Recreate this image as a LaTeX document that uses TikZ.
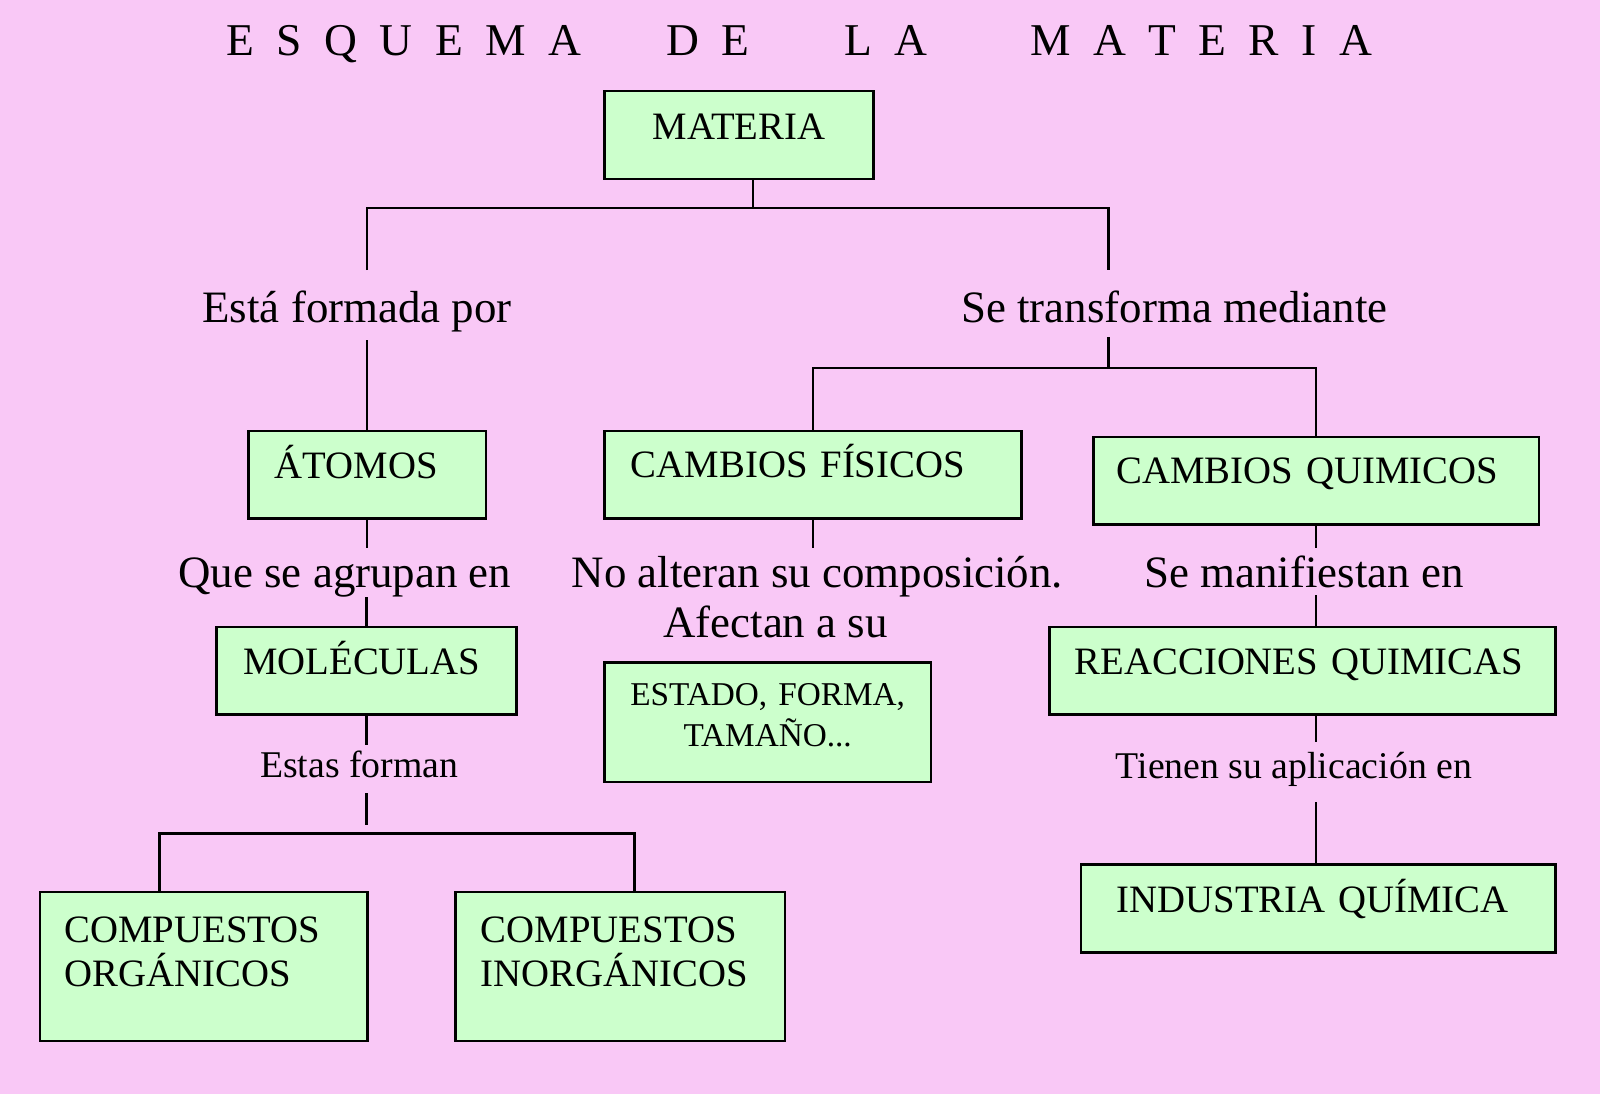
\documentclass[tikz,border=0pt]{standalone}
\usepackage{fontspec}
\setmainfont{Liberation Serif}
\definecolor{bgpink}{RGB}{249,200,246}
\definecolor{boxgreen}{RGB}{204,255,204}
\newcommand\tlsp{\hspace{11pt}}
\begin{document}
\begin{tikzpicture}[x=0.5pt,y=-0.5pt,
  box/.style={draw=black, fill=boxgreen, line width=1.3pt, inner ysep=0pt,
              anchor=north west, font=\fontsize{19}{21.5}\selectfont},
  lab/.style={inner sep=0pt, anchor=base, font=\fontsize{22}{26}\selectfont},
  slab/.style={inner sep=0pt, anchor=base, font=\fontsize{18.5}{22}\selectfont},
  conn/.style={line width=1.3pt}]
\fill[bgpink] (0,0) rectangle (1568,1072);
\useasboundingbox (0,0) rectangle (1568,1072);

% title
\node[anchor=base, inner sep=0pt, font=\fontsize{22.3}{26}\selectfont] (title) at (783.5,54)
  {E\tlsp S\tlsp Q\tlsp U\tlsp E\tlsp M\tlsp A\hspace{41.5pt}D\tlsp E\hspace{46.5pt}L\tlsp A\hspace{50.5pt}M\tlsp A\tlsp T\tlsp E\tlsp R\tlsp I\tlsp A};

% boxes
\node[box, text width=132pt, text height=23.75pt, text depth=19.25pt, inner xsep=0pt, align=center] (materia) at (591,88) {\mbox{MATERIA}};
\node[box, text width=90.5pt, text height=23.5pt, text depth=19.5pt, inner xsep=13pt, align=left] (atomos) at (242,421) {\mbox{ÁTOMOS}};
\node[box, text width=178.5pt, text height=23pt, text depth=20pt, inner xsep=13pt, align=left] (fis) at (591,421) {\mbox{CAMBIOS FÍSICOS}};
\node[box, text width=195.5pt, text height=22.75pt, text depth=20.25pt, inner xsep=11.5pt, align=left] (quim) at (1070,427) {\mbox{CAMBIOS QUIMICOS}};
\node[box, text width=121pt, text height=23.35pt, text depth=19.65pt, inner xsep=13pt, align=left] (molec) at (211,613) {\mbox{MOLÉCULAS}};
\node[box, text width=160pt, text height=21pt, text depth=37.5pt, inner xsep=0pt, align=center, font=\fontsize{16.3}{20}\selectfont] (estado) at (591,648) {ESTADO, FORMA,\\TAMAÑO...};
\node[box, text width=223pt, text height=23.5pt, text depth=19.5pt, inner xsep=12.5pt, align=left] (reac) at (1027,613) {\mbox{REACCIONES QUIMICAS}};
\node[box, text width=136.5pt, text height=24.5pt, text depth=48.5pt, inner xsep=12pt, align=left] (org) at (38,873) {\mbox{COMPUESTOS}\\\mbox{ORGÁNICOS}};
\node[box, text width=136.5pt, text height=24.5pt, text depth=48.5pt, inner xsep=12.5pt, align=left] (inorg) at (445,873) {\mbox{COMPUESTOS}\\\mbox{INORGÁNICOS}};
\node[box, text width=197.5pt, text height=23.25pt, text depth=19.75pt, inner xsep=17.5pt, align=left] (indus) at (1058,846) {\mbox{INDUSTRIA QUÍMICA}};

% labels
\node[lab, text height=25.5pt, text depth=8.5pt] (esta) at (350,316) {Está formada por};
\node[lab, text height=25.5pt, text depth=7pt] (setrans) at (1151,316) {Se transforma mediante};
\node[lab, text height=19.5pt, text depth=4.5pt] (agrupan) at (338,576) {Que se agrupan en};
\node[lab, text height=19.5pt, text depth=4.5pt] (noalt) at (801,576) {No alteran su composición.};
\node[lab, text height=19.5pt, text depth=3.5pt] (manif) at (1278,576) {Se manifiestan en};
\node[lab] (afectan) at (760,625) {Afectan a su};
\node[slab, text height=16pt, text depth=7.5pt] (estas) at (352,762) {Estas forman};
\node[slab, text height=17.25pt, text depth=11.75pt] (tienen) at (1268,762.5) {Tienen su aplicación en};

% junction coordinates
\coordinate (mj) at (738,204);
\coordinate (bl) at (atomos.north |- mj);
\coordinate (br) at (1086.5,204);
\coordinate (rj) at (1086.5,360.5);
\coordinate (cl) at (156.5,816.5);
\coordinate (cr) at (621.5,816.5);
\coordinate (cj) at ([yshift=4pt]molec.south |- cl);

% connectors
\draw[conn] (materia.south -| mj) -- (mj);
\draw[conn] (esta.north -| bl) -- (bl) -- (br) -- (setrans.north -| br);
\draw[conn] (atomos.north |- esta.south) -- (atomos.north);
\draw[conn] (br |- setrans.south) -- (rj);
\draw[conn] (fis.north) -- (fis.north |- rj) -- (quim.north |- rj) -- (quim.north);
\draw[conn] (atomos.south) -- (atomos.south |- agrupan.north);
\draw[conn] (molec.north |- agrupan.south) -- (molec.north);
\draw[conn] (fis.south) -- (fis.south |- noalt.north);
\draw[conn] (quim.south) -- (quim.south |- manif.north);
\draw[conn] (quim.south |- manif.south) -- (quim.south |- reac.north);
\draw[conn] (molec.south) -- (molec.south |- estas.north);
\draw[conn] (molec.south |- estas.south) -- (cj);
\draw[conn] (org.north -| cl) -- (cl) -- (cr) -- (inorg.north -| cr);
\draw[conn] (quim.south |- reac.south) -- (quim.south |- tienen.north);
\draw[conn] (quim.south |- tienen.south) -- (quim.south |- indus.north);
\end{tikzpicture}
\end{document}
